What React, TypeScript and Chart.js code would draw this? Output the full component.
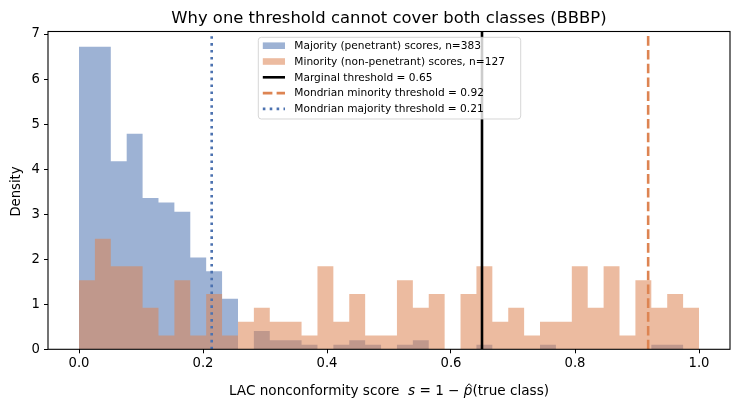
import { useEffect, useRef } from "react";
import { Chart, registerables } from "chart.js";

Chart.register(...registerables);

// Histogram bins: 39 equal-width bins covering [0, 1]
const binStart = 0;
const binEnd = 1;
const binCount = 39;

// Counts per bin of the LAC nonconformity score
const majorityCounts = [
  66, 66, 41, 47, 33, 32, 30, 20, 17, 11, 0, 4, 2, 2, 1, 0, 1, 2, 1, 0,
  1, 2, 0, 0, 0, 1, 0, 0, 0, 1, 0, 0, 0, 0, 0, 0, 1, 1, 0,
];
const minorityCounts = [
  5, 8, 6, 6, 3, 1, 5, 1, 4, 1, 2, 3, 2, 2, 1, 6, 2, 4, 1, 1,
  5, 3, 4, 0, 4, 6, 2, 3, 1, 2, 2, 6, 3, 6, 1, 5, 3, 4, 3,
];

// Calibrated thresholds
const marginalThreshold = 0.65;
const minorityThreshold = 0.918;
const majorityThreshold = 0.214;

const xTickValues = [0, 0.2, 0.4, 0.6, 0.8, 1.0];
const yTickValues = [0, 1, 2, 3, 4, 5, 6, 7];

const titleText = "Why one threshold cannot cover both classes (BBBP)";
const yLabelText = "Density";
const xLabelParts = [
  { text: "LAC nonconformity score  ", italic: false, hat: false },
  { text: "s", italic: true, hat: false },
  { text: " = 1 \u2212 ", italic: false, hat: false },
  { text: "p", italic: true, hat: true },
  { text: "(true class)", italic: false, hat: false },
];

const BLUE = "#4C72B0";
const ORANGE = "#DD8452";
const BLUE_FILL = "rgba(76,114,176,0.55)";
const ORANGE_FILL = "rgba(221,132,82,0.55)";
const FONT = "'DejaVu Sans', 'Liberation Sans', sans-serif";

const binWidth = (binEnd - binStart) / binCount;
const sum = (a: number[]) => a.reduce((s, v) => s + v, 0);

// Density histogram as a step outline: one point per left bin edge,
// plus a closing point at the right edge of the last bin.
function toDensitySteps(counts: number[]) {
  const n = sum(counts);
  const pts = counts.map((c, i) => ({
    x: binStart + i * binWidth,
    y: c / (n * binWidth),
  }));
  pts.push({ x: binEnd, y: pts[pts.length - 1].y });
  return pts;
}

export default function App() {
  const canvasRef = useRef<HTMLCanvasElement | null>(null);

  useEffect(() => {
    const canvas = canvasRef.current;
    if (!canvas) return;

    const majority = toDensitySteps(majorityCounts);
    const minority = toDensitySteps(minorityCounts);
    const yMax =
      Math.max(...majority.map((p) => p.y), ...minority.map((p) => p.y)) * 1.05;

    const lw = 2.6;
    const dashed = [9.6, 4.2];
    const dotted = [2.6, 4.3];
    const vline = (x: number) => [
      { x, y: 0 },
      { x, y: yMax },
    ];

    type LegendItem = {
      label: string;
      kind: "patch" | "line";
      color: string;
      dash?: number[];
    };
    const legendItems: LegendItem[] = [
      {
        label: `Majority (penetrant) scores, n=${sum(majorityCounts)}`,
        kind: "patch",
        color: BLUE_FILL,
      },
      {
        label: `Minority (non-penetrant) scores, n=${sum(minorityCounts)}`,
        kind: "patch",
        color: ORANGE_FILL,
      },
      {
        label: `Marginal threshold = ${marginalThreshold.toFixed(2)}`,
        kind: "line",
        color: "#000000",
      },
      {
        label: `Mondrian minority threshold = ${minorityThreshold.toFixed(2)}`,
        kind: "line",
        color: ORANGE,
        dash: dashed,
      },
      {
        label: `Mondrian majority threshold = ${majorityThreshold.toFixed(2)}`,
        kind: "line",
        color: BLUE,
        dash: dotted,
      },
    ];

    const decorations = {
      id: "decorations",
      afterDatasetsDraw(chart: Chart) {
        const ctx = chart.ctx;
        const a = chart.chartArea;
        ctx.save();
        // axes frame
        ctx.strokeStyle = "#000";
        ctx.lineWidth = 1.1;
        ctx.strokeRect(a.left, a.top, a.right - a.left, a.bottom - a.top);

        // legend
        const bx = 258.3,
          by = 37.3,
          bw = 262.4,
          bh = 81.7,
          r = 3;
        ctx.beginPath();
        ctx.moveTo(bx + r, by);
        ctx.arcTo(bx + bw, by, bx + bw, by + bh, r);
        ctx.arcTo(bx + bw, by + bh, bx, by + bh, r);
        ctx.arcTo(bx, by + bh, bx, by, r);
        ctx.arcTo(bx, by, bx + bw, by, r);
        ctx.closePath();
        ctx.fillStyle = "rgba(255,255,255,0.8)";
        ctx.fill();
        ctx.strokeStyle = "rgba(204,204,204,0.8)";
        ctx.lineWidth = 1;
        ctx.stroke();

        const hx0 = 262.8,
          hx1 = 285,
          tx = 294.3;
        legendItems.forEach((it, i) => {
          const cy = 45.7 + i * 15.8;
          if (it.kind === "patch") {
            ctx.fillStyle = it.color;
            ctx.fillRect(hx0, cy - 3.3, hx1 - hx0, 6.6);
          } else {
            ctx.beginPath();
            ctx.setLineDash(it.dash || []);
            ctx.lineCap = "butt";
            ctx.strokeStyle = it.color;
            ctx.lineWidth = lw;
            ctx.moveTo(hx0, cy);
            ctx.lineTo(hx1, cy);
            ctx.stroke();
            ctx.setLineDash([]);
          }
          ctx.fillStyle = "#000";
          ctx.font = `10.6px ${FONT}`;
          ctx.textAlign = "left";
          ctx.textBaseline = "middle";
          ctx.fillText(it.label, tx, cy + 0.5);
        });

        // title
        const cx = (a.left + a.right) / 2;
        ctx.fillStyle = "#000";
        ctx.font = `16.4px ${FONT}`;
        ctx.textAlign = "center";
        ctx.textBaseline = "middle";
        ctx.fillText(titleText, cx, 18.5);

        // y label
        ctx.save();
        ctx.translate(16.5, 191.5);
        ctx.rotate(-Math.PI / 2);
        ctx.font = `13.2px ${FONT}`;
        ctx.textAlign = "center";
        ctx.textBaseline = "middle";
        ctx.fillText(yLabelText, 0, 0);
        ctx.restore();

        // x label with math-style pieces
        const size = 13.6;
        const fontFor = (italic: boolean) =>
          `${italic ? "italic " : ""}${size}px ${FONT}`;
        let total = 0;
        const widths = xLabelParts.map((p) => {
          ctx.font = fontFor(p.italic);
          const w = ctx.measureText(p.text).width;
          total += w;
          return w;
        });
        let x = cx - total / 2;
        const baseline = 395;
        ctx.textAlign = "left";
        ctx.textBaseline = "alphabetic";
        xLabelParts.forEach((p, i) => {
          ctx.font = fontFor(p.italic);
          ctx.fillText(p.text, x, baseline);
          if (p.hat) {
            const hc = x + widths[i] / 2 + 1;
            const hy = baseline - size * 0.74;
            ctx.beginPath();
            ctx.lineWidth = 0.9;
            ctx.strokeStyle = "#000";
            ctx.moveTo(hc - 2.6, hy + 1.6);
            ctx.lineTo(hc, hy - 1.2);
            ctx.lineTo(hc + 2.6, hy + 1.6);
            ctx.stroke();
          }
          x += widths[i];
        });
        ctx.restore();
      },
    };

    const tickFont = { family: FONT, size: 13.2 };
    const histStyle = {
      type: "line",
      stepped: true,
      fill: "origin",
      borderColor: "rgba(0,0,0,0)",
      borderWidth: 0,
      pointRadius: 0,
      tension: 0,
    };
    const lineStyle = {
      type: "line",
      borderWidth: lw,
      pointRadius: 0,
      fill: false,
      borderCapStyle: "butt",
      order: 0,
    };

    const chart = new Chart(canvas, {
      type: "line",
      data: {
        datasets: [
          {
            ...lineStyle,
            label: "Marginal threshold",
            data: vline(marginalThreshold),
            borderColor: "#000000",
          },
          {
            ...lineStyle,
            label: "Mondrian minority threshold",
            data: vline(minorityThreshold),
            borderColor: ORANGE,
            borderDash: dashed,
          },
          {
            ...lineStyle,
            label: "Mondrian majority threshold",
            data: vline(majorityThreshold),
            borderColor: BLUE,
            borderDash: dotted,
          },
          {
            ...histStyle,
            label: "Minority (non-penetrant) scores",
            data: minority,
            backgroundColor: ORANGE_FILL,
            order: 1,
          },
          {
            ...histStyle,
            label: "Majority (penetrant) scores",
            data: majority,
            backgroundColor: BLUE_FILL,
            order: 2,
          },
        ],
      } as any,
      options: {
        animation: false,
        responsive: false,
        devicePixelRatio: 1,
        layout: { padding: { top: 31.5, right: 10, left: 0, bottom: 0 } },
        plugins: {
          legend: { display: false },
          title: { display: false },
          tooltip: { enabled: false },
        },
        scales: {
          x: {
            type: "linear",
            min: -0.05,
            max: 1.05,
            offset: false,
            afterBuildTicks: (s: any) => {
              s.ticks = xTickValues.map((v) => ({ value: v }));
            },
            afterFit: (s: any) => {
              s.height = 59.7;
            },
            ticks: {
              callback: (v: any) => Number(v).toFixed(1),
              font: tickFont,
              color: "#000",
              padding: 2,
              maxRotation: 0,
              autoSkip: false,
            },
            grid: {
              display: true,
              offset: false,
              drawOnChartArea: false,
              drawTicks: true,
              tickLength: 4,
              tickColor: "#000",
              lineWidth: 1,
            },
            border: { display: false },
          },
          y: {
            type: "linear",
            min: 0,
            max: yMax,
            afterBuildTicks: (s: any) => {
              s.ticks = yTickValues.map((v) => ({ value: v }));
            },
            afterFit: (s: any) => {
              s.width = 48;
            },
            ticks: {
              callback: (v: any) => String(v),
              font: tickFont,
              color: "#000",
              padding: 4,
              autoSkip: false,
            },
            grid: {
              display: true,
              drawOnChartArea: false,
              drawTicks: true,
              tickLength: 4,
              tickColor: "#000",
              lineWidth: 1,
            },
            border: { display: false },
          },
        },
      } as any,
      plugins: [decorations],
    });

    return () => chart.destroy();
  }, []);

  return (
    <div
      style={{
        position: "fixed",
        left: 0,
        top: 0,
        width: 740,
        height: 409,
        background: "#fff",
      }}
    >
      <canvas ref={canvasRef} width={740} height={409} />
    </div>
  );
}
